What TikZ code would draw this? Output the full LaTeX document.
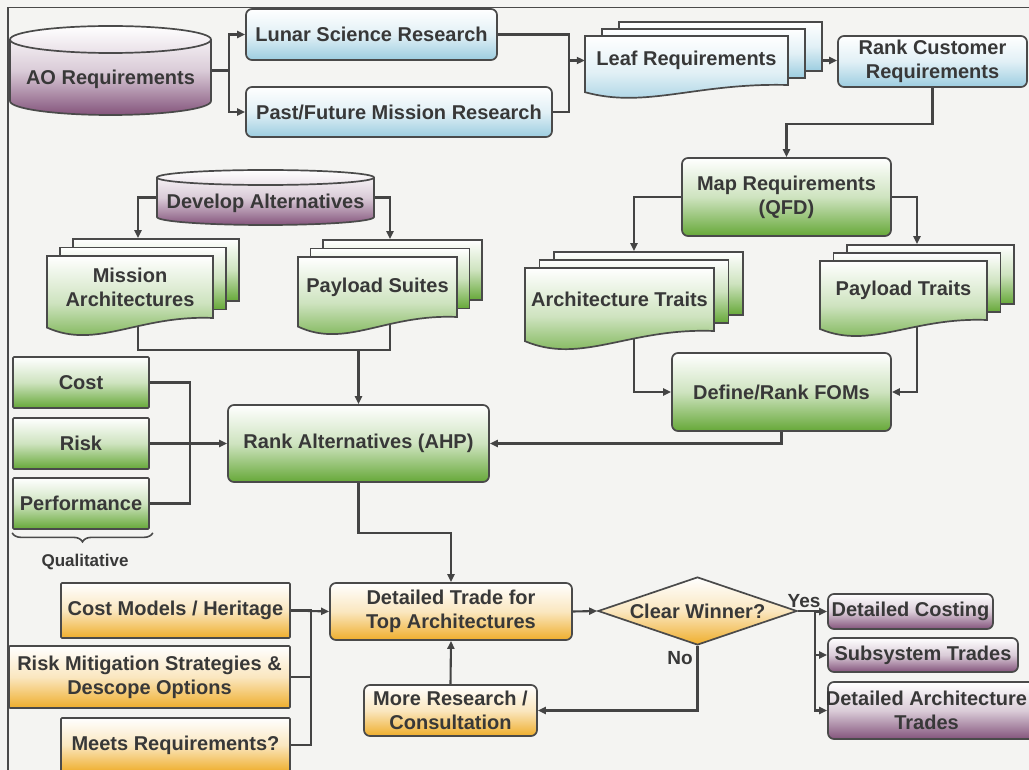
\documentclass[tikz,border=0pt]{standalone}
\usepackage{fontspec}
\setmainfont{Liberation Sans}
\usetikzlibrary{shapes.geometric,arrows.meta,decorations.pathreplacing,calc}

\definecolor{bgc}{HTML}{F4F4F2}
\definecolor{linec}{HTML}{4A4A4A}
\definecolor{connc}{HTML}{444444}
\definecolor{txtc}{HTML}{383838}
\definecolor{blueb}{HTML}{9CCDE0}
\definecolor{greenb}{HTML}{66A838}
\definecolor{purpleb}{HTML}{84547C}
\definecolor{orangeb}{HTML}{EFAE2C}

\pgfdeclarelayer{bgfill}
\pgfdeclarelayer{edges}
\pgfsetlayers{bgfill,edges,main}

\tikzset{
  boxfont/.style={font=\fontsize{20}{24}\selectfont\bfseries},
  shapebox/.style={draw=linec, line width=1.7pt, inner sep=0pt, align=center, text=txtc, boxfont},
  rbox/.style={shapebox, rounded corners=6pt},
  sbox/.style={shapebox, rounded corners=1pt},
  page/.style={draw=linec, line width=1.7pt, inner sep=0pt, rectangle},
  plain/.style={inner sep=0pt, align=center, text=txtc, boxfont},
  fillblue/.style={top color=white, bottom color=blueb, middle color=blueb!30!white},
  fillgreen/.style={top color=white, bottom color=greenb, middle color=greenb!32!white},
  fillpurple/.style={top color=white, bottom color=purpleb, middle color=purpleb!30!white},
  fillorange/.style={top color=white, bottom color=orangeb, middle color=orangeb!30!white},
  conn/.style={draw=connc, line width=2.1pt},
  connarr/.style={conn, -{Triangle[length=8pt,width=7pt]}},
  bracestyle/.style={draw=linec, line width=1.6pt, decorate, decoration={brace, mirror, amplitude=9pt}},
}

% drum (cylinder): name, left x, right x, top-ellipse centre y, its radius,
% bottom-ellipse centre y, its radius, label y, label
\newcommand\drum[9]{%
  \node[inner sep=0pt, minimum width={(#3-#2)*1pt}, minimum height={(#6+#7-#4+#5)*1pt}]
    (#1) at ({(#2+#3)/2},{-(#4-#5+#6+#7)/2}) {};
  \path[fillpurple, draw=linec, line width=1.7pt]
    (#2,-#4) -- (#2,-#6)
    arc[start angle=180, end angle=360, x radius={(#3-#2)/2*1pt}, y radius=#7pt]
    -- (#3,-#4)
    arc[start angle=0, end angle=180, x radius={(#3-#2)/2*1pt}, y radius=#5pt] -- cycle;
  \draw[linec, line width=1.7pt] (#2,-#4)
    arc[start angle=180, end angle=360, x radius={(#3-#2)/2*1pt}, y radius=#5pt];
  \node[plain] (#1-label) at ({(#2+#3)/2},-#8) {#9};
}

% stack of documents: name, left x, top y, width, depth to lowest point of the
% wave, wave size, fill style, label; page offsets in \ox and \oy
\newcommand\docstack[8]{%
  \foreach \k in {2,1}{%
    \node[page, #7, minimum width=#4pt, minimum height={(#5-#6)*1pt}]
      (#1-b\k) at ({#2+#4/2+\k*\ox},{-(#3+(#5-#6)/2-\k*\oy)}) {};
  }%
  \path[#7, draw=linec, line width=1.7pt]
    (#2,-#3) -- ++(#4,0) -- ++(0,{-(#5-#6)})
    .. controls ({#2+0.55*#4},{-(#3+#5-1.2*#6)}) and ({#2+0.3*#4},{-(#3+#5+#6)}) ..
    (#2,{-(#3+#5-0.4*#6)}) -- cycle;
  \node[plain, minimum width=#4pt, minimum height={(#5-#6)*1pt}]
    (#1) at ({#2+#4/2},{-(#3+(#5-#6)/2)}) {#8};
}

\begin{document}
\begin{tikzpicture}[x=1pt,y=1pt]
\clip (0,0) rectangle (1029,-770);
\begin{pgfonlayer}{bgfill}
  \fill[bgc] (0,0) rectangle (1029,-770);
  \draw[linec, line width=1.6pt] (8,-770) -- (8,-7.5) -- (1029,-7.5);
\end{pgfonlayer}

% ---------- requirements branch ----------
\drum{aoreq}{10}{211}{39.5}{13.5}{101}{14}{79}{AO Requirements}
\node[rbox, fillblue, minimum width=251pt, minimum height=51pt] (lunar) at (371.5,-34.5) {Lunar Science Research};
\node[rbox, fillblue, minimum width=306pt, minimum height=50pt] (past) at (399,-112) {Past/Future Mission Research};
\def\ox{17}\def\oy{7}
\docstack{leaf}{585}{36}{203}{61}{12}{fillblue}{Leaf Requirements}
\node[rbox, fillblue, minimum width=189pt, minimum height=51pt] (rankcust) at (932.5,-61.5) {Rank Customer\\Requirements};
\node[rbox, fillgreen, minimum width=209pt, minimum height=78pt] (mapreq) at (786.5,-197) {Map Requirements\\(QFD)};
\def\ox{14.5}\def\oy{8}
\docstack{archtr}{525}{268}{189}{80}{17}{fillgreen}{Architecture Traits}
\def\ox{13.5}\def\oy{8}
\docstack{paytr}{820}{261}{167}{74}{15}{fillgreen}{Payload Traits}
\node[rbox, fillgreen, minimum width=219pt, minimum height=78pt] (fomdef) at (781.5,-392) {Define/Rank FOMs};

% ---------- alternatives branch ----------
\drum{devalt}{157}{374}{177.5}{7.5}{217}{8}{203}{Develop Alternatives}
\def\ox{13}\def\oy{8.5}
\docstack{mission}{47}{256}{166}{78}{16}{fillgreen}{Mission\\Architectures}
\def\ox{12.5}\def\oy{8.5}
\docstack{paysu}{298}{257}{159}{76}{16}{fillgreen}{Payload Suites}
\node[rbox, fillgreen, minimum width=261pt, minimum height=77pt] (rankalt) at (358.5,-443.5) {Rank Alternatives (AHP)};
\node[sbox, fillgreen, minimum width=136pt, minimum height=51pt] (cost) at (81,-382.5) {Cost};
\node[sbox, fillgreen, minimum width=136pt, minimum height=51pt] (risk) at (81,-443.5) {Risk};
\node[sbox, fillgreen, minimum width=136pt, minimum height=51pt] (perf) at (81,-503.5) {Performance};
\draw[bracestyle] ([yshift=-3pt]perf.south west) -- ([xshift=3pt,yshift=-3pt]perf.south east);
\node[plain, font=\fontsize{17}{20}\selectfont\bfseries] (qual) at (85,-562) {Qualitative};

% ---------- detailed trades ----------
\node[rbox, fillorange, minimum width=242pt, minimum height=57pt] (dtrade) at (451,-611.5) {Detailed Trade for\\Top Architectures};
\node[sbox, fillorange, minimum width=229pt, minimum height=55pt] (costmod) at (175.5,-610.5) {Cost Models / Heritage};
\node[sbox, fillorange, minimum width=281pt, minimum height=62pt] (riskmit) at (149.5,-677) {Risk Mitigation Strategies \&\\Descope Options};
\node[sbox, fillorange, minimum width=229pt, minimum height=54pt] (meets) at (175.5,-745) {Meets Requirements?};
\node[rbox, fillorange, minimum width=173pt, minimum height=51pt] (morers) at (450.5,-710.5) {More Research /\\Consultation};
\node[shapebox, diamond, aspect=2.9, fillorange, minimum width=199pt, minimum height=68pt] (clear) at (697.5,-611) {Clear Winner?};
\node[rbox, fillpurple, minimum width=165pt, minimum height=35pt] (dcost) at (910.5,-611.5) {Detailed Costing};
\node[rbox, fillpurple, minimum width=190pt, minimum height=34pt] (subsys) at (923,-655) {Subsystem Trades};
\node[rbox, fillpurple, minimum width=212pt, minimum height=57pt] (darch) at (934,-710.5) {};
\node[plain] (darch-label) at (926.5,-710.5) {Detailed Architecture\\Trades};
\node[plain, font=\fontsize{19}{22}\selectfont\bfseries] (yes) at (804,-601) {Yes};
\node[plain, font=\fontsize{19}{22}\selectfont\bfseries] (no) at (680,-658) {No};

% ---------- connectors ----------
\begin{pgfonlayer}{edges}
  \draw[conn] (aoreq.east) -- ++(18,0) coordinate (aosplit);
  \draw[connarr] (aosplit) |- (lunar.west);
  \draw[connarr] (aosplit) |- (past.west);
  \coordinate (resjoin) at ($(leaf.west)+(-16,0)$);
  \draw[conn] (lunar.east) -| (resjoin) |- (past.east);
  \draw[connarr] (resjoin) -- (leaf.west);
  \draw[connarr] (leaf.east -| leaf-b2.east) -- (leaf.east -| rankcust.west);
  \draw[connarr] (rankcust.south) -- ++(0,-36) -| (mapreq.north);
  \draw[connarr] (mapreq.west) -| (archtr-b1.north |- archtr-b2.north);
  \draw[connarr] (mapreq.east) -| (paytr-b1.north |- paytr-b2.north);
  \draw[connarr] (archtr-b1.center) |- (fomdef.west);
  \draw[connarr] (paytr-b1.center) |- (fomdef.east);
  \draw[connarr] (fomdef.south) |- (rankalt.east);

  \draw[connarr] (devalt.west) -| ([xshift=-5pt]mission-b1.north |- mission-b2.north);
  \draw[connarr] (devalt.east) -| (paysu-b1.north |- paysu-b2.north);
  \coordinate (altjoin) at ([yshift=54pt]rankalt.north);
  \draw[conn] ([xshift=-5pt]mission-b1.center) |- (altjoin);
  \draw[conn] (paysu-b1.center) |- (altjoin);
  \draw[connarr] (altjoin) -- (rankalt.north);

  \draw[conn] (cost.east) -- ++(40,0) |- (perf.east);
  \draw[connarr] (risk.east) -- (rankalt.west);

  \draw[connarr] (rankalt.south) -- ++(0,-50) -| (dtrade.north);
  \draw[connarr] (costmod.east) -- (dtrade.west);
  \draw[conn] (costmod.east) -- ++(20,0) |- (meets.east);
  \draw[conn] (riskmit.east) -- ++(20,0);
  \draw[connarr] (morers.north) -- (dtrade.south);
  \draw[connarr] (dtrade.east) -- (clear.west);
  \draw[connarr] (clear.south) |- (morers.east);
  \draw[conn] (clear.east) -- ++(17,0) coordinate (yessplit);
  \draw[connarr] (yessplit) -- (yessplit |- dcost.west) -- (dcost.west);
  \draw[connarr] (yessplit) |- (subsys.west);
  \draw[connarr] (yessplit) |- (darch.west);
\end{pgfonlayer}
\end{tikzpicture}
\end{document}
